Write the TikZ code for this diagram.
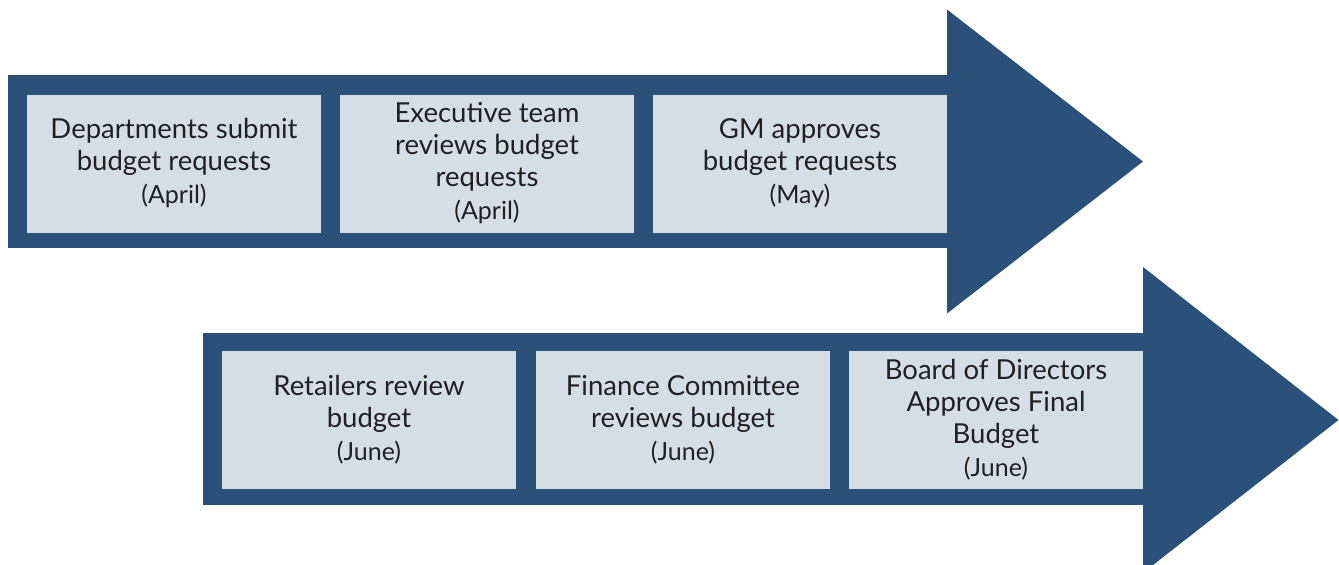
\documentclass[tikz,border=0pt]{standalone}
\usepackage{fontspec}
\setmainfont{Lato}
\usetikzlibrary{positioning}
\definecolor{arrowblue}{RGB}{43,80,122}
\definecolor{boxgray}{RGB}{214,222,229}
\definecolor{inkgray}{RGB}{35,31,32}
\newcommand{\when}[1]{{\fontsize{25}{32}\selectfont(#1)}}

\begin{document}
\begin{tikzpicture}[x=1pt,y=-1pt,
  stage/.style={fill=boxgray,text=inkgray,minimum width=294pt,minimum height=138pt,
    inner sep=0pt,outer sep=0pt,align=center,font=\fontsize{27.5}{32}\selectfont}]
\useasboundingbox (0,0) rectangle (1339,565);

% upper arrow
\fill[arrowblue] (8,75) rectangle (948,248);
\fill[arrowblue] (947,9.5) -- (1143,161.5) -- (947,313.5) -- cycle;
% lower arrow
\fill[arrowblue] (203,333) rectangle (1144,505);
\fill[arrowblue] (1143,267) -- (1338.5,420) -- (1153,565) -- (1143,565) -- cycle;

\node[stage]                  (dept)   at (174,163.5) {Departments submit\\budget requests\\[1pt]\when{April}};
\node[stage,right=19pt of dept] (exec)   {Executive team\\reviews budget\\requests\\[1pt]\when{April}};
\node[stage,right=19pt of exec] (gm)     {GM approves\\budget requests\\[1pt]\when{May}};

\node[stage]                  (retail) at (369,420) {Retailers review\\budget\\[1pt]\when{June}};
\node[stage,right=20pt of retail] (fin)  {Finance Committee\\reviews budget\\[1pt]\when{June}};
\node[stage,right=19pt of fin]  (board)  {Board of Directors\\Approves Final\\Budget\\[1pt]\when{June}};

\end{tikzpicture}
\end{document}
